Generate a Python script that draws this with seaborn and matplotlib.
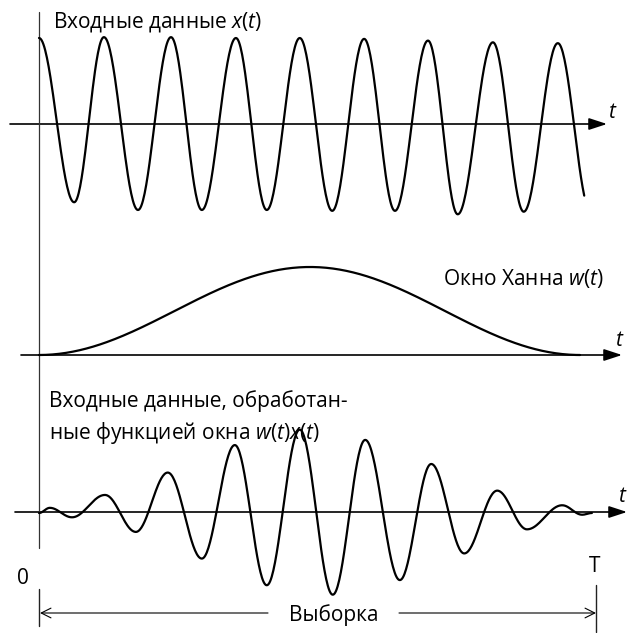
import numpy as np
import pandas as pd
import matplotlib
matplotlib.use("Agg")
import matplotlib.pyplot as plt
import seaborn as sns
from matplotlib.patches import FancyArrowPatch
from matplotlib.lines import Line2D

# ---------------- data (time in units of the sample length T) ----------------
# input signal x(t): successive peaks / troughs
top_t = [0.000, 0.065, 0.120, 0.183, 0.244, 0.301, 0.364, 0.421, 0.482,
         0.542, 0.601, 0.658, 0.719, 0.774, 0.839, 0.896, 0.959, 1.020]
top_v = [1.00, -0.91, 1.01, -1.00, 1.01, -1.00, 1.00, -1.00, 1.00,
         -1.01, 0.99, -1.01, 0.97, -1.05, 0.95, -1.02, 0.94, -1.02]
top_t_end = 1.009

# Hann window w(t): start, maximum, end
win_t = [0.000, 0.501, 1.000]
win_v = [0.00, 1.00, 0.00]

# windowed data w(t)x(t): successive peaks / troughs
prod_t = [0.000, 0.020, 0.061, 0.122, 0.179, 0.238, 0.301, 0.362, 0.421, 0.482,
          0.543, 0.603, 0.667, 0.725, 0.786, 0.847, 0.902, 0.967, 1.004, 1.022]
prod_v = [0.00, 0.06, -0.05, 0.21, -0.22, 0.47, -0.53, 0.79, -0.84, 0.97,
          -0.95, 0.85, -0.78, 0.57, -0.47, 0.26, -0.19, 0.09, -0.02, 0.00]

label_top = "Входные данные $x$($t$)"
label_win = "Окно Ханна $w$($t$)"
label_prod_lines = ["Входные данные, обработан-",
                    "ные функцией окна $w$($t$)$x$($t$)"]
axis_label = "$t$"
start_label = "0"
end_label = "T"
span_label = "Выборка"

# ---------------- style ----------------
sns.set_style("white")
plt.rcParams["font.family"] = ["Open Sans", "DejaVu Sans"]
plt.rcParams["mathtext.fontset"] = "custom"
plt.rcParams["mathtext.it"] = "Open Sans:italic"
plt.rcParams["mathtext.rm"] = "Open Sans"
plt.rcParams["text.color"] = "black"

W, H = 629, 633
fig = plt.figure(figsize=(W / 100, H / 100), dpi=100)
fig.patch.set_facecolor("white")

X0, XS = 39.0, 541.0  # pixel of t=0 and pixels per T
FS = 15


def smooth(ts, vs, t_end=None, n=40):
    xs, ys = [], []
    for i in range(len(ts) - 1):
        s = np.linspace(0, 1, n, endpoint=False)
        xs.append(ts[i] + (ts[i + 1] - ts[i]) * s)
        ys.append(vs[i] + (vs[i + 1] - vs[i]) * (1 - np.cos(np.pi * s)) / 2)
    xs.append(np.array([ts[-1]]))
    ys.append(np.array([vs[-1]]))
    x = np.concatenate(xs)
    y = np.concatenate(ys)
    if t_end is not None:
        m = x <= t_end
        x, y = x[m], y[m]
    return pd.DataFrame({"t": x, "v": y})


# overlay axes in pixel coordinates for axes lines, arrows and text
ov = fig.add_axes([0, 0, 1, 1])
ov.set_xlim(0, W)
ov.set_ylim(H, 0)
ov.axis("off")


def panel(p0, p1, base, a):
    ax = fig.add_axes([0, 1 - p1 / H, 1, (p1 - p0) / H])
    ax.set_xlim(-X0 / XS, (W - X0) / XS)
    ax.set_ylim((base - p1) / a, (base - p0) / a)
    ax.axis("off")
    return ax


ax_top = panel(0, 220, 124, 86)
ax_win = panel(220, 380, 355, 88)
ax_prod = panel(380, 633, 513, 86)

for ax, df in [(ax_top, smooth(top_t, top_v, top_t_end)),
               (ax_win, smooth(win_t, win_v, n=200)),
               (ax_prod, smooth(prod_t, prod_v))]:
    sns.lineplot(data=df, x="t", y="v", ax=ax, color="black", lw=1.6,
                 estimator=None, sort=False)
    ax.set_xlabel("")
    ax.set_ylabel("")

# vertical axis
ov.add_line(Line2D([39, 39], [12, 548], color="#333333", lw=0.9))


def harrow(x0, x1, y, style="-|>,head_length=1.1,head_width=0.36", lw=1.2):
    ov.add_patch(FancyArrowPatch((x0, y), (x1, y), arrowstyle=style,
                                 mutation_scale=10, lw=lw, color="black",
                                 shrinkA=0, shrinkB=0))


harrow(10, 607, 124)
harrow(21, 622, 355)
harrow(15, 627, 512)

ov.text(608, 113, axis_label, fontsize=FS, ha="left", va="center")
ov.text(615, 341, axis_label, fontsize=FS, ha="left", va="center")
ov.text(628, 497, axis_label, fontsize=FS, ha="right", va="center")

ov.text(53, 22, label_top, fontsize=FS, ha="left", va="center")
ov.text(443, 278, label_win, fontsize=FS, ha="left", va="center")
ov.text(49, 401, label_prod_lines[0], fontsize=FS, ha="left", va="center")
ov.text(49, 433, label_prod_lines[1], fontsize=FS, ha="left", va="center")

# sample span
ov.text(23, 578, start_label, fontsize=FS, ha="center", va="center")
ov.text(595, 567, end_label, fontsize=FS, ha="center", va="center")
ov.add_line(Line2D([39, 39], [589, 626], color="#222222", lw=1.0))
ov.add_line(Line2D([596, 596], [585, 632], color="#222222", lw=1.0))
harrow(268, 40, 613, style="->,head_length=0.7,head_width=0.35", lw=0.8)
harrow(399, 596, 613, style="->,head_length=0.7,head_width=0.35", lw=0.8)
ov.text(334, 615, span_label, fontsize=FS, ha="center", va="center")

fig.savefig("out.png", dpi=100, facecolor="white")
